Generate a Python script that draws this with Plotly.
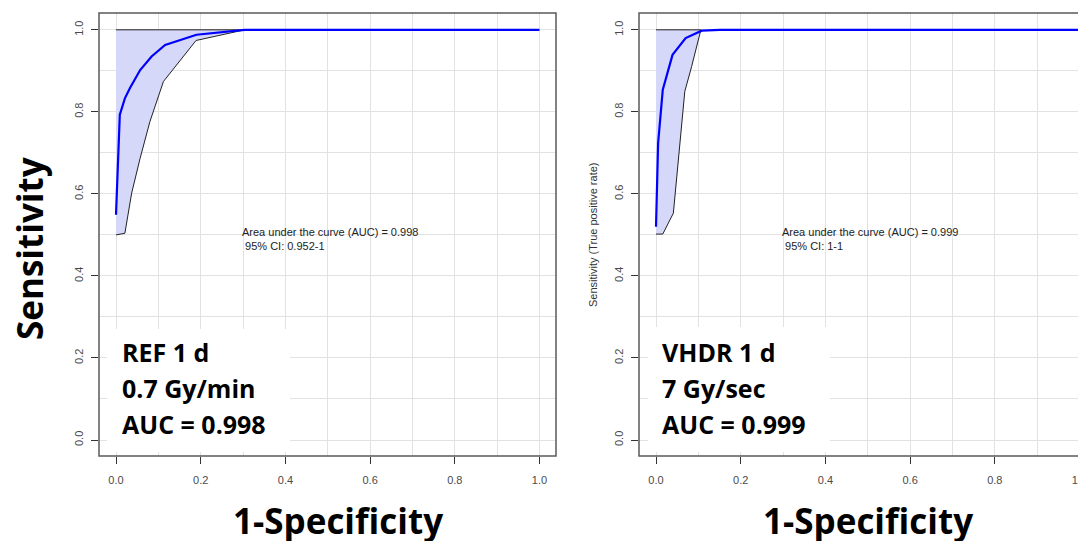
import plotly.graph_objects as go

# ---- data ----
ref_fpr = [0.0, 0.009, 0.021, 0.033, 0.057, 0.084, 0.116, 0.190, 0.304, 1.0]
ref_sens = [0.549, 0.793, 0.833, 0.858, 0.902, 0.935, 0.963, 0.988, 1.0, 1.0]
ref_ci_fpr = [0.0, 0.021, 0.037, 0.057, 0.080, 0.112, 0.189, 0.304]
ref_ci_low = [0.500, 0.504, 0.602, 0.687, 0.776, 0.874, 0.974, 1.0]
ref_ci_high = [1.0, 1.0, 1.0, 1.0, 1.0, 1.0, 1.0, 1.0]

vhdr_fpr = [0.0, 0.005, 0.016, 0.039, 0.070, 0.108, 0.151, 1.0]
vhdr_sens = [0.520, 0.724, 0.854, 0.939, 0.980, 0.998, 1.0, 1.0]
vhdr_ci_fpr = [0.0, 0.016, 0.041, 0.057, 0.068, 0.084, 0.106]
vhdr_ci_low = [0.502, 0.502, 0.553, 0.724, 0.850, 0.910, 0.998]
vhdr_ci_high = [1.0, 1.0, 1.0, 1.0, 1.0, 1.0, 1.0]

x_ticks = [0.0, 0.2, 0.4, 0.6, 0.8, 1.0]
y_ticks = [0.0, 0.2, 0.4, 0.6, 0.8, 1.0]
tick_text = ["0.0", "0.2", "0.4", "0.6", "0.8", "1.0"]

panels = [
    dict(fpr=ref_fpr, sens=ref_sens, cf=ref_ci_fpr, cl=ref_ci_low, ch=ref_ci_high,
         auc_text="Area under the curve (AUC) = 0.998", ci_text=" 95% CI: 0.952-1",
         label=["REF 1 d", "0.7 Gy/min", "AUC = 0.998"]),
    dict(fpr=vhdr_fpr, sens=vhdr_sens, cf=vhdr_ci_fpr, cl=vhdr_ci_low, ch=vhdr_ci_high,
         auc_text="Area under the curve (AUC) = 0.999", ci_text=" 95% CI: 1-1",
         label=["VHDR 1 d", "7 Gy/sec", "AUC = 0.999"]),
]

# page body has an 8px margin: figure coordinates = page coordinates - OFF
OFF = 8
W, H = 1086 - OFF, 541 - OFF

def px(x):
    return (x - OFF) / W

def py(y):
    return 1 - (y - OFF) / H

# pixel geometry (page pixels)
box = [(99, 556), (639, 1086)]
x0px = [116, 656]
ppu_x = 423.5
top_px, bot_px = 13, 456
y_range = [-0.039, 1.041]

fig = go.Figure()

for i, p in enumerate(panels):
    xa = "x" if i == 0 else "x2"
    ya = "y" if i == 0 else "y2"
    poly_x = p["cf"] + p["cf"][::-1]
    poly_y = p["cl"] + p["ch"][::-1]
    fig.add_trace(go.Scatter(x=poly_x, y=poly_y, fill="toself", mode="lines",
                             fillcolor="#D6D8FA", line=dict(color="#222222", width=1),
                             xaxis=xa, yaxis=ya, showlegend=False, hoverinfo="skip"))
    fig.add_trace(go.Scatter(x=p["fpr"], y=p["sens"], mode="lines",
                             line=dict(color="#0000FF", width=2.2),
                             xaxis=xa, yaxis=ya, showlegend=False))

axis_common = dict(showline=False, zeroline=False, showgrid=True, gridcolor="#E2E2E2",
                   gridwidth=1, ticks="outside", ticklen=7, tickcolor="#333333",
                   ticklabeloverflow="allow",
                   tickfont=dict(family="Liberation Sans", size=11, color="#4a4a4a"),
                   minor=dict(dtick=0.1, showgrid=True, gridcolor="#E2E2E2", gridwidth=1, ticks=""))

for i in range(2):
    l, r = box[i]
    x_lo = -(x0px[i] - l) / ppu_x
    x_hi = x_lo + (r - l) / ppu_x
    xkey = "xaxis" if i == 0 else "xaxis2"
    ykey = "yaxis" if i == 0 else "yaxis2"
    fig.update_layout(**{
        xkey: dict(domain=[px(l), min(1.0, px(r))], range=[x_lo, x_hi], tickvals=x_ticks, ticktext=tick_text,
                   anchor="y" if i == 0 else "y2", ticklabelstandoff=7, **axis_common),
        ykey: dict(domain=[py(bot_px), py(top_px)], range=y_range, tickvals=y_ticks, ticktext=tick_text,
                   tickangle=-90, anchor="x" if i == 0 else "x2", ticklabelstandoff=4, **axis_common),
    })

shapes = []
# plot boxes
shapes.append(dict(type="rect", xref="paper", yref="paper", x0=px(99), x1=px(556),
                   y0=py(bot_px), y1=py(top_px), line=dict(color="#5a5a5a", width=1.5), layer="above"))
shapes.append(dict(type="rect", xref="paper", yref="paper", x0=px(639), x1=px(1100),
                   y0=py(bot_px), y1=py(top_px), line=dict(color="#5a5a5a", width=1.5), layer="above"))
# white label panels
shapes.append(dict(type="rect", xref="paper", yref="paper", x0=px(107), x1=px(290),
                   y0=py(452), y1=py(329), fillcolor="white", line=dict(width=0), layer="above"))
shapes.append(dict(type="rect", xref="paper", yref="paper", x0=px(648), x1=px(830),
                   y0=py(452), y1=py(327), fillcolor="white", line=dict(width=0), layer="above"))
fig.update_layout(shapes=shapes)

ann = []
small = dict(family="Liberation Sans", size=11, color="#222222")
for i, p in enumerate(panels):
    xa = "x" if i == 0 else "x2"
    ya = "y" if i == 0 else "y2"
    ann.append(dict(x=0.292, y=0.507, xref=xa, yref=ya, text=p["auc_text"], showarrow=False,
                    xanchor="left", yanchor="middle", font=small))
    ann.append(dict(x=0.292, y=0.473, xref=xa, yref=ya, text=p["ci_text"], showarrow=False,
                    xanchor="left", yanchor="middle", font=small))
    lx = [120, 660][i]
    for j, t in enumerate(p["label"]):
        ann.append(dict(x=px(lx), y=py(352 + 36 * j), xref="paper", yref="paper", text="<b>%s</b>" % t,
                        showarrow=False, xanchor="left", yanchor="middle",
                        font=dict(family="Open Sans", size=25, color="#000000")))
    cx = [338, 868][i]
    ann.append(dict(x=px(cx), y=py(520), xref="paper", yref="paper", text="<b>1-Specificity</b>",
                    showarrow=False, xanchor="center", yanchor="middle",
                    font=dict(family="Open Sans", size=35, color="#000000")))

ann.append(dict(x=px(29), y=py(249), xref="paper", yref="paper", text="<b>Sensitivity</b>",
                showarrow=False, textangle=-90, xanchor="center", yanchor="middle",
                font=dict(family="Open Sans", size=35, color="#000000")))
ann.append(dict(x=px(593), y=py(235), xref="paper", yref="paper", text="Sensitivity (True positive rate)",
                showarrow=False, textangle=-90, xanchor="center", yanchor="middle",
                font=dict(family="Liberation Sans", size=11, color="#333333")))
fig.update_layout(annotations=ann)

fig.update_layout(width=W, height=H, margin=dict(l=0, r=0, t=0, b=0),
                  paper_bgcolor="white", plot_bgcolor="white", showlegend=False)

fig.write_html("out.html")
